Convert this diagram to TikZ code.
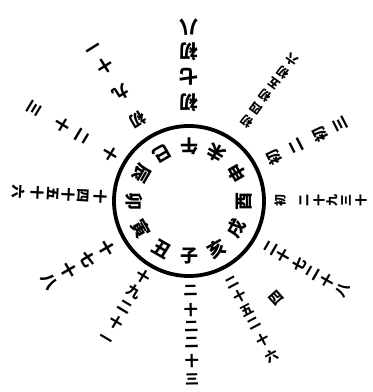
\documentclass[tikz,border=0pt]{standalone}
\usepackage{fontspec}
\newfontfamily\cjk{Noto Sans CJK SC}
\usetikzlibrary{calc}
\newcommand\spoke[4]{%
  \foreach \ch/\r [count=\i] in {#4} {
    \node[numch, font=\cjk\bfseries\fontsize{#3}{#3}\selectfont, rotate=#2+90] (#1-\i) at ($(c)+(#2:\r)$) {\ch};
  }}
\begin{document}
\begin{tikzpicture}[x=1pt,y=1pt,
  numch/.style={inner sep=0pt, text=black},
  branch/.style={inner sep=0pt, font=\cjk\bfseries\fontsize{18}{18}\selectfont},
  ring/.style={circle, draw=black, line width=3.8pt, minimum size=150pt, inner sep=0pt}]
\useasboundingbox (0,0) rectangle (373,392);
\fill[white] (0,0) rectangle (373,392);
\coordinate (c) at (189,191);
\node[ring] (ring) at (c) {};
\foreach \ch [count=\k from 0] in {子,丑,寅,卯,辰,巳,午,未,申,酉,戌,亥} {
  \pgfmathsetmacro\a{-90-30*\k}
  \node[branch, rotate=\a+90] (b\k) at ($(c)+(\a:55)$) {\ch};
}
\spoke{s0}{-89}{14}{二/89, 十/109, 二/126, 二/142, 十/160, 三/178}
\spoke{s1}{-121}{14}{十/88, 九/106, 二/124, 十/142, 一/163}
\spoke{s2}{-150}{16}{十/95, 七/117, 十/139, 八/161}
\spoke{s3}{177}{14}{十/89, 四/106, 十/121, 五/136, 十/152, 六/171}
\spoke{s4}{149}{15}{十/91, 二/125, 十/148, 三/180}
\spoke{s5}{122}{16}{初/96, 九/128, 十/159, 一/183}
\spoke{s6}{90}{19}{初/98, 七/124, 初/149, 八/174}
\spoke{s7}{54}{12}{初/98, 四/114, 初/130, 五/145, 初/159, 六/175}
\spoke{s8}{27}{15}{初/95, 二/121, 初/147, 三/170}
\spoke{s9}{0}{12}{初/91, 二/115, 十/130, 九/143, 三/157, 十/172}
\spoke{s10}{-30}{14}{二/94, 十/109, 七/127, 二/143, 十/160, 八/178}
\spoke{s11}{-62}{13}{二/92, 十/108, 五/124, 二/139, 十/157, 六/176}
\node[numch, font=\cjk\bfseries\fontsize{14}{14}\selectfont, rotate=-48+90] (s11-x) at ($(c)+(-48:131)$) {四};
\end{tikzpicture}
\end{document}
